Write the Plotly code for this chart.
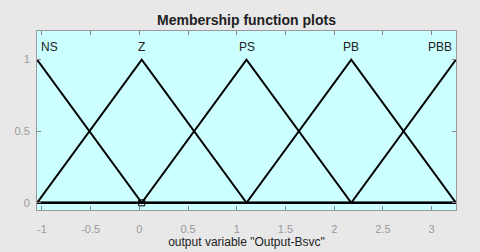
import plotly.graph_objects as go

mf_names = ["NS", "Z", "PS", "PB", "PBB"]
mf_params = [[-2.125, -1.05, 0.025], [-1.05, 0.025, 1.1], [0.025, 1.1, 2.175],
             [1.1, 2.175, 3.25], [2.175, 3.25, 4.325]]
x_range = [-1.05, 3.25]
x_ticks = [-1, -0.5, 0, 0.5, 1, 1.5, 2, 2.5, 3]
x_tick_text = ["-1", "-0.5", "0", "0.5", "1", "1.5", "2", "2.5", "3"]
y_ticks = [0, 0.5, 1]
y_tick_text = ["0", "0.5", "1"]


def trimf(x, a, b, c):
    if x <= a or x >= c:
        return 0.0
    if x <= b:
        return (x - a) / (b - a)
    return (c - x) / (c - b)


fig = go.Figure()
for name, (a, b, c) in zip(mf_names, mf_params):
    xs = sorted(set([x_range[0], x_range[1]] + [v for v in (a, b, c) if x_range[0] <= v <= x_range[1]]))
    ys = [trimf(v, a, b, c) if v != b else 1.0 for v in xs]
    fig.add_trace(go.Scatter(x=xs, y=ys, mode="lines", line=dict(color="black", width=2),
                             showlegend=False, hoverinfo="skip", cliponaxis=False))

fig.add_trace(go.Scatter(x=[mf_params[1][1]], y=[0], mode="markers",
                         marker=dict(symbol="square-open", size=6, color="black", line=dict(width=1)),
                         showlegend=False, hoverinfo="skip"))

for i, (name, (a, b, c)) in enumerate(zip(mf_names, mf_params)):
    if i == 0:
        xa, anchor = x_range[0] + 0.02, "left"
    elif i == len(mf_names) - 1:
        xa, anchor = x_range[1] - 0.02, "right"
    else:
        xa, anchor = b, "center"
    fig.add_annotation(x=xa, y=1.09, text=name, showarrow=False, xanchor=anchor, yanchor="middle",
                       font=dict(family="Liberation Sans, Arial", size=12, color="#222222"))

fig.update_layout(
    width=480, height=252,
    margin=dict(l=37, r=24, t=31, b=42, autoexpand=False),
    paper_bgcolor="#e8e8e8",
    plot_bgcolor="#ccffff",
    title=dict(text="<b>Membership function plots</b>", x=0.5, xanchor="center", xref="paper",
               y=1 - 20 / 252, yanchor="middle", yref="container",
               font=dict(family="Liberation Sans, Arial", size=14, color="#222222")),
    font=dict(family="Liberation Sans, Arial"),
)
fig.update_xaxes(range=x_range, tickvals=x_ticks, ticktext=x_tick_text, showgrid=False, zeroline=False,
                 automargin=False, ticklabelstandoff=9,
                 ticks="inside", ticklen=4, tickcolor="#888888", showline=True, linecolor="#999999",
                 linewidth=1, mirror="ticks", tickfont=dict(size=11, color="#999999"),
                 title=dict(text='output variable "Output-Bsvc"', font=dict(size=12, color="#222222"),
                            standoff=1))
fig.update_yaxes(range=[-0.05, 1.2], tickvals=y_ticks, ticktext=y_tick_text, showgrid=False, zeroline=False,
                 automargin=False, ticklabelstandoff=4,
                 ticks="inside", ticklen=4, tickcolor="#888888", showline=True, linecolor="#999999",
                 linewidth=1, mirror="ticks", tickfont=dict(size=11, color="#999999"))

fig.write_html("out.html", config={"displayModeBar": False},
               post_script="document.body.style.margin='0';document.body.style.background='#e8e8e8';")
